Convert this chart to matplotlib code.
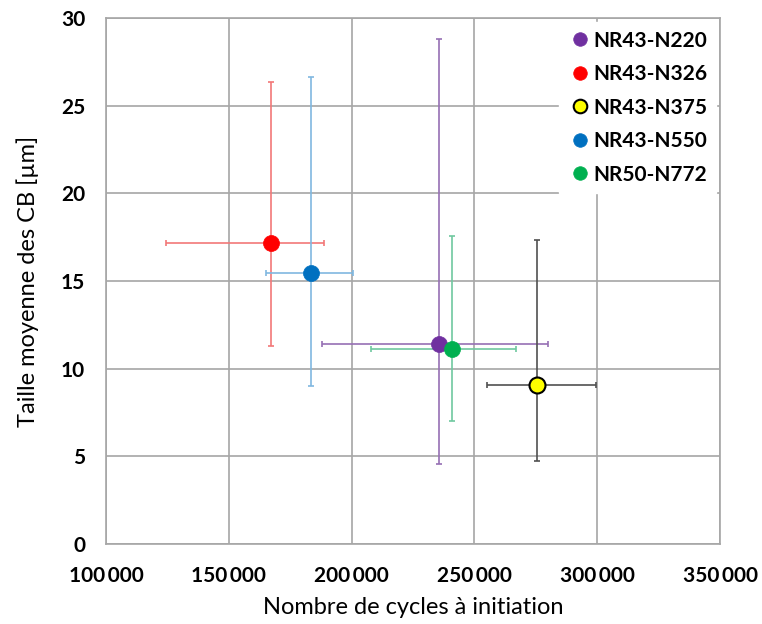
import matplotlib
matplotlib.use('Agg')
import matplotlib.pyplot as plt
from matplotlib.ticker import FuncFormatter

plt.rcParams['font.family'] = ['Lato', 'DejaVu Sans']

# données
names = ['NR43-N220', 'NR43-N326', 'NR43-N375', 'NR43-N550', 'NR50-N772']
cycles = [235700, 167300, 275500, 183500, 240900]
cycles_lo = [188000, 124300, 255100, 165000, 207900]
cycles_hi = [279900, 188900, 299300, 200700, 267000]
taille = [11.4, 17.2, 9.1, 15.45, 11.1]
taille_lo = [4.55, 11.3, 4.75, 9.0, 7.05]
taille_hi = [28.8, 26.35, 17.35, 26.65, 17.6]

colors = ['#7030a0', '#ff0000', '#ffff00', '#0070c0', '#00b050']
err_colors = ['#9670b4', '#f27878', '#505050', '#80b8e0', '#70c8a0']
edge_colors = ['#7030a0', '#ff0000', '#000000', '#0070c0', '#00b050']

fig = plt.figure(figsize=(7.62, 6.24), dpi=100)
ax = fig.add_axes([0.139, 0.128, 0.806, 0.843])

for i in range(len(names)):
    xerr = [[cycles[i] - cycles_lo[i]], [cycles_hi[i] - cycles[i]]]
    yerr = [[taille[i] - taille_lo[i]], [taille_hi[i] - taille[i]]]
    ax.errorbar(cycles[i], taille[i], xerr=xerr, yerr=yerr, fmt='none',
                ecolor=err_colors[i], elinewidth=1.2, capsize=2.5, capthick=1.2, zorder=3)
    ax.plot(cycles[i], taille[i], 'o', color=colors[i], markersize=11.5,
            markeredgecolor=edge_colors[i], markeredgewidth=1.5 if i == 2 else 0.5,
            label=names[i], zorder=4)

ax.set_xlim(100000, 350000)
ax.set_ylim(0, 30)
ax.set_xticks(range(100000, 350001, 50000))
ax.set_yticks(range(0, 31, 5))
ax.xaxis.set_major_formatter(FuncFormatter(lambda v, p: '{:,}'.format(int(v)).replace(',', '\u2009')))
ax.grid(True, color='#a6a6a6', linewidth=1.2, zorder=0)
ax.set_axisbelow(True)
for s in ax.spines.values():
    s.set_color('#a6a6a6')
    s.set_linewidth(1.2)
ax.tick_params(length=0, labelsize=15)
ax.tick_params(axis='x', pad=16)
ax.tick_params(axis='y', pad=15)
for lab in ax.get_xticklabels() + ax.get_yticklabels():
    lab.set_fontweight('bold')

ax.set_xlabel('Nombre de cycles à initiation', fontsize=17, labelpad=8)
ax.set_ylabel('Taille moyenne des CB [µm]', fontsize=17, labelpad=16)

leg = ax.legend(loc='upper right', frameon=True, fancybox=False, framealpha=1,
                edgecolor='white', fontsize=15, handletextpad=0.05, markerscale=0.85,
                labelspacing=0.65, borderaxespad=0.2, handlelength=1.2)
for t in leg.get_texts():
    t.set_fontweight('bold')

fig.savefig('out.png', dpi=100)
